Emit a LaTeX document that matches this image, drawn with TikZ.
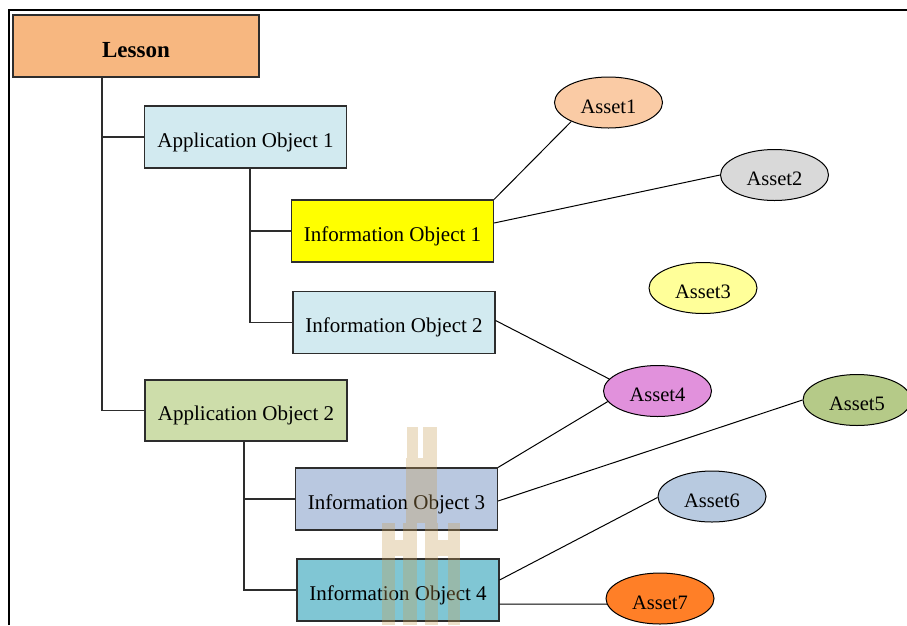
\documentclass[tikz,border=0pt]{standalone}
\usepackage{fontspec}
\setmainfont{Liberation Serif}
\usetikzlibrary{shapes.geometric}
\definecolor{lessonfill}{RGB}{247,183,128}
\definecolor{paleblue}{RGB}{210,234,240}
\definecolor{sunyellow}{RGB}{255,255,0}
\definecolor{sage}{RGB}{205,221,170}
\definecolor{steel}{RGB}{185,200,224}
\definecolor{teal}{RGB}{128,198,212}
\definecolor{peach}{RGB}{250,203,165}
\definecolor{silver}{RGB}{217,217,217}
\definecolor{lemon}{RGB}{255,255,153}
\definecolor{orchid}{RGB}{225,145,220}
\definecolor{olive}{RGB}{181,202,136}
\definecolor{mist}{RGB}{184,202,224}
\definecolor{tangerine}{RGB}{255,127,39}
\definecolor{edge}{RGB}{45,45,45}
\definecolor{crest}{RGB}{200,160,90}
\begin{document}
\begin{tikzpicture}[x=1pt,y=-1pt,
  objbox/.style={draw=edge, line width=1.2pt, inner sep=0pt,
    minimum width=202pt, minimum height=62pt,
    text height=21pt, text depth=0.4pt,
    font=\fontsize{21}{25}\selectfont},
  asset/.style={ellipse, draw=black, line width=1pt, inner sep=0pt,
    minimum width=108pt, minimum height=51pt,
    text height=21.4pt, text depth=0pt,
    font=\fontsize{20.5}{24}\selectfont},
  tree/.style={draw=edge, line width=1.2pt},
  link/.style={draw=black, line width=1pt},
  crestpart/.style={fill=crest, fill opacity=0.33, draw=none}]
\useasboundingbox (0,0) rectangle (907,625);

% outer frame (top and left edges)
\draw[line width=2pt] (9,625) -- (9,10) -- (907,10);

% hierarchy boxes
\node[objbox, fill=lessonfill, minimum width=246pt, minimum height=62pt,
  text height=23pt, text depth=0.4pt,
  font=\fontsize{23}{27}\selectfont\bfseries] (lesson) at (136,46) {Lesson};
\node[objbox, fill=paleblue] (ao1) at (245.5,137) {Application Object 1};
\node[objbox, fill=sunyellow] (io1) at (392.5,231) {Information Object 1};
\node[objbox, fill=paleblue] (io2) at (394,322.5) {Information Object 2};
\node[objbox, fill=sage, minimum height=61pt] (ao2) at (246,410.5) {Application Object 2};
\node[objbox, fill=steel] (io3) at (396.5,499) {Information Object 3};
\node[objbox, fill=teal] (io4) at (398,590) {Information Object 4};

% assets
\node[asset, fill=peach] (a1) at (608.5,102.5) {Asset1};
\node[asset, fill=silver] (a2) at (774.5,175) {Asset2};
\node[asset, fill=lemon] (a3) at (703,288) {Asset3};
\node[asset, fill=orchid] (a4) at (657.5,391) {Asset4};
\node[asset, fill=olive] (a5) at (857,400) {Asset5};
\node[asset, fill=mist] (a6) at (712,496.5) {Asset6};
\node[asset, fill=tangerine] (a7) at (660,598.5) {Asset7};

% tree connectors
\coordinate (t1) at (102,0);
\coordinate (t2) at (250,0);
\coordinate (t3) at (244,0);
\draw[tree] (lesson.south -| t1) |- (ao1.west);
\draw[tree] (lesson.south -| t1) |- (ao2.west);
\draw[tree] (ao1.south -| t2) |- (io1.west);
\draw[tree] (ao1.south -| t2) |- (io2.west);
\draw[tree] (ao2.south -| t3) |- (io3.west);
\draw[tree] (ao2.south -| t3) |- (io4.west);

% asset links
\draw[link] (io1.north east) -- (a1.207);
\draw[link] ([yshift=8pt]io1.east) -- (a2.west);
\draw[link] ([yshift=2pt]io2.east) -- (a4.166);
\draw[link] (io3.north east) -- (a4.192);
\draw[link] ([yshift=-2pt]io3.east) -- (a5.west);
\draw[link] ([yshift=10pt]io4.east) -- (a6.181);
\draw[link] ([yshift=-14pt]io4.east) -- (a7.186);

% faint crest in the background
\fill[crestpart] (407,427) rectangle (418,458);
\fill[crestpart] (423,427) rectangle (437,458);
\fill[crestpart] (406,458) rectangle (437,523);
\fill[crestpart] (403,523) rectangle (417,625);
\fill[crestpart] (425,523) rectangle (438,625);
\fill[crestpart] (382,523) rectangle (395,625);
\fill[crestpart] (448,523) rectangle (460,625);
\fill[crestpart] (395,540) rectangle (403,556);
\fill[crestpart] (438,540) rectangle (448,556);
\end{tikzpicture}
\end{document}
